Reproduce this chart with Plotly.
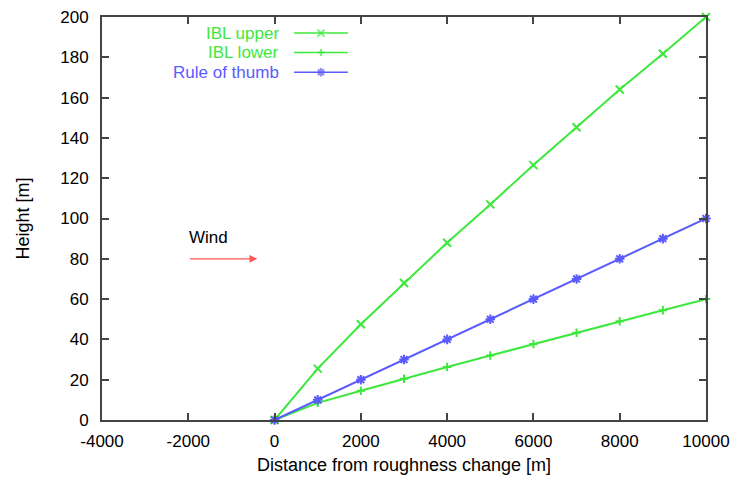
import plotly.graph_objects as go

x_vals = [0, 1000, 2000, 3000, 4000, 5000, 6000, 7000, 8000, 9000, 10000]
ibl_upper = [0, 25.5, 47.5, 68, 88, 107, 126.5, 145.3, 164, 181.8, 200]
ibl_lower = [0, 8.5, 14.5, 20.5, 26.3, 32, 37.7, 43.3, 49, 54.5, 60]
rule_thumb = [0, 10, 20, 30, 40, 50, 60, 70, 80, 90, 100]

x_ticks = [-4000, -2000, 0, 2000, 4000, 6000, 8000, 10000]
y_ticks = [0, 20, 40, 60, 80, 100, 120, 140, 160, 180, 200]

names = ["IBL upper", "IBL lower", "Rule of thumb"]
colors = ["#3de83d", "#3de83d", "#5a5aff"]
symbols = ["x-thin-open", "cross-thin-open", "asterisk-open"]
msizes = [8, 6, 8]
series = [ibl_upper, ibl_lower, rule_thumb]

FONT = "Liberation Sans, Arial, sans-serif"
FS = 17

fig = go.Figure()
for name, col, sym, ms, ys in zip(names, colors, symbols, msizes, series):
    fig.add_trace(go.Scatter(
        x=x_vals, y=ys, mode="lines+markers", name=name,
        line=dict(color=col, width=2),
        marker=dict(symbol=sym, size=ms, color=col, line=dict(color=col, width=2)),
        showlegend=False, cliponaxis=False))

# manual gnuplot-style legend (text then sample) on hidden overlay axes
leg_y = [0.960, 0.912, 0.863]
for name, col, sym, ms, ly in zip(names, colors, symbols, msizes, leg_y):
    fig.add_trace(go.Scatter(
        x=[0.318, 0.3625, 0.407], y=[ly, ly, ly], xaxis="x2", yaxis="y2",
        mode="lines+markers", line=dict(color=col, width=1.5),
        marker=dict(symbol=sym, size=[0, ms - 1, 0], color=col, line=dict(color=col, width=2)),
        showlegend=False, hoverinfo="skip"))
    fig.add_annotation(x=0.296, y=ly, xref="x2 domain", yref="y2 domain",
                       text=name, showarrow=False, xanchor="right", yanchor="middle",
                       font=dict(family=FONT, size=FS, color=col))

fig.add_annotation(x=-2030, y=85, xref="x", yref="y", text="Wind", showarrow=False,
                   xanchor="left", yanchor="bottom",
                   font=dict(family=FONT, size=FS, color="black"))
fig.add_annotation(x=-400, y=80, ax=-2000, ay=80, xref="x", yref="y", axref="x", ayref="y",
                   text="", showarrow=True, arrowhead=2, arrowsize=1.3, arrowwidth=1.2,
                   arrowcolor="#ff5555")

axis_common = dict(showline=True, linecolor="#444444", linewidth=2, mirror="ticks",
                   ticks="inside", ticklen=7, tickwidth=1.5, tickcolor="#444444",
                   showgrid=False, zeroline=False, automargin=False,
                   tickfont=dict(family=FONT, size=FS, color="black"))

fig.update_layout(
    width=735, height=482,
    margin=dict(l=102, r=29, t=17, b=62),
    paper_bgcolor="white", plot_bgcolor="white",
    xaxis=dict(range=[-4000, 10000], tickvals=x_ticks, ticktext=[str(v) for v in x_ticks],
               title=dict(text="Distance from roughness change [m]", standoff=8,
                          font=dict(family=FONT, size=18, color="black")),
               ticklabelstandoff=5, **axis_common),
    yaxis=dict(range=[0, 200], tickvals=y_ticks, ticktext=[str(v) for v in y_ticks],
               title=dict(text="Height [m]", standoff=26,
                          font=dict(family=FONT, size=18, color="black")),
               ticklabelstandoff=8, **axis_common),
    xaxis2=dict(range=[0, 1], overlaying="x", visible=False, fixedrange=True),
    yaxis2=dict(range=[0, 1], overlaying="y", visible=False, fixedrange=True),
)

fig.write_html("out.html")
